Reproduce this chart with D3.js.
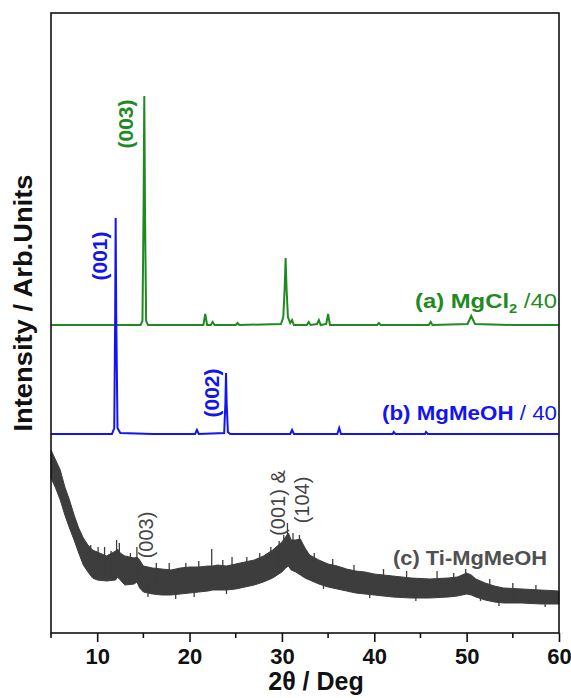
<!DOCTYPE html>
<html><head><meta charset="utf-8">
<script src="https://cdn.jsdelivr.net/npm/d3@7/dist/d3.min.js"></script>
<style>body{margin:0;background:#fff}svg{display:block;font-family:"Liberation Sans",Arial,sans-serif}</style>
</head><body><div id="chart"></div>
<script>
// ---- data ----
const xTicks = [10, 20, 30, 40, 50, 60];
const xMinorTicks = [5, 15, 25, 35, 45, 55];
// (a) MgCl2 /40 (offset trace)
const mgcl2Angle = [5, 8, 11, 14.7, 14.9, 15.02, 15.1, 15.18, 15.3, 15.5, 18, 21.5, 21.7, 21.9, 22.3, 22.5, 22.7, 25.0, 25.2, 25.4, 29.9, 30.15, 30.3, 30.4, 30.5, 30.65, 30.9, 31.1, 31.3, 32.7, 32.9, 33.1, 33.8, 34.0, 34.2, 34.8, 35.0, 35.2, 38, 40.3, 40.5, 40.7, 44, 45.9, 46.1, 46.3, 50.1, 50.5, 50.9, 55, 60];
const mgcl2Int   = [308, 308, 308, 308, 312, 420, 537, 420, 312, 308, 308, 308, 319, 308, 308, 311, 308, 308, 310, 308, 309, 316, 345, 375, 345, 316, 310, 313, 308, 308, 311, 308, 309, 313, 308, 309, 319, 308, 308, 308, 310, 308, 308, 308, 311, 308, 309, 317, 309, 308, 308];
// (b) MgMeOH / 40
const mgmeohAngle = [5, 8, 11.6, 11.85, 11.95, 12.0, 12.06, 12.2, 12.5, 16, 20.6, 20.8, 21.0, 23.75, 23.88, 23.95, 24.02, 24.15, 24.4, 28, 30.9, 31.1, 31.3, 36.0, 36.2, 36.4, 42.0, 42.1, 42.3, 45.5, 45.6, 45.8, 52, 60];
const mgmeohInt   = [199, 199, 199, 205, 320, 415, 320, 205, 200, 199, 199, 203, 199, 200, 230, 260, 230, 201, 199, 199, 199, 203, 199, 199, 205, 199, 199, 201, 199, 199, 201, 199, 199, 199];
// (c) Ti-MgMeOH : noisy trace read as upper / lower envelope plus visible spikes
const tiAngle = [5.0, 5.5, 6.0, 6.5, 7.0, 7.5, 8.0, 8.5, 9.0, 9.5, 10, 11, 12, 12.2, 12.5, 13, 14, 14.3, 14.6, 15, 16, 17, 18, 19, 20, 21, 22, 22.5, 23, 24, 25, 26, 27, 28, 29, 29.5, 30, 30.4, 30.7, 31, 31.5, 32, 32.5, 33, 34, 35, 36, 37, 38, 39, 40, 42, 44, 46, 48, 49, 50, 50.5, 51, 52, 53, 54, 56, 58, 60];
const tiUpper = [183, 173, 163, 146, 133, 118, 105, 95, 88, 83, 81, 77, 82, 84, 80, 77, 75, 76, 73, 67, 65, 64, 63, 65, 66, 66, 67, 67, 68, 67, 69, 71, 73, 77, 83, 87, 91, 96, 100, 93, 93, 94, 85, 78, 73, 69, 67, 64, 62, 61, 59, 57, 55, 54, 55, 56, 60, 58, 54, 50, 47, 45, 44, 43, 42];
const tiLower = [155, 145, 133, 118, 105, 93, 80, 68, 61, 55, 53, 52, 53, 56, 53, 48, 49, 51, 45, 41, 39, 38, 38, 39, 40, 41, 42, 43, 43, 43, 44, 46, 48, 51, 55, 58, 61, 65, 67, 63, 61, 58, 55, 53, 49, 46, 44, 42, 40, 39, 38, 36, 35, 35, 36, 37, 39, 38, 36, 33, 31, 30, 30, 29, 29];
const tiSpikeAngle = [9.3, 10.1, 10.8, 11.5, 12.1, 12.4, 13.6, 14.3, 15.5, 16.4, 17.8, 18.5, 19.6, 20.5, 21.0, 22.4, 23.6, 24.0, 24.6, 26.2, 27.6, 28.8, 29.7, 30.2, 30.6, 31.2, 31.9, 33.5, 34.5, 35.5, 37.8, 39.5, 41.0, 43.5, 44.5, 46.8, 48.6, 49.9, 51.5, 52.5, 53.5, 55.0, 57.5, 58.5];
const tiSpikeTop   = [88, 86, 86, 82, 93, 90, 80, 86, 55, 70, 70, 55, 70, 55, 72, 84, 73, 58, 76, 76, 80, 86, 92, 98, 110, 100, 98, 80, 62, 74, 68, 52, 64, 62, 48, 62, 60, 64, 46, 54, 40, 50, 48, 38];
const tiSpikeBase  = [60, 58, 55, 55, 58, 58, 52, 52, 36, 45, 45, 34, 45, 36, 45, 45, 46, 39, 46, 48, 52, 56, 62, 64, 68, 65, 62, 52, 44, 46, 42, 35, 38, 38, 32, 38, 38, 40, 32, 34, 27, 32, 31, 26];

const seriesLabels = ["(a) MgCl", "(b) MgMeOH", "(c) Ti-MgMeOH"];
const peakLabelsGreen = [{t: "(003)", a: 15.1, v: 537}];
const peakLabelsBlue = [{t: "(001)", a: 12.0, v: 415}, {t: "(002)", a: 23.95, v: 260}];

// ---- layout ----
const W = 571, H = 698;
const m = {l: 51, r: 12, t: 13, b: 65};
const svg = d3.select("#chart").append("svg").attr("width", W).attr("height", H);
const x = d3.scaleLinear().domain([5, 60]).range([m.l, W - m.r]);
const y = d3.scaleLinear().domain([0, 620]).range([H - m.b, m.t]);

const green = "#1f8a1f", blue = "#1414f0", gray = "#3d3d3d";

// traces
const line = d3.line().x(d => x(d[0])).y(d => y(d[1]));
svg.append("path").datum(mgcl2Angle.map((a, i) => [a, mgcl2Int[i]]))
  .attr("d", line).attr("fill", "none").attr("stroke", green).attr("stroke-width", 2);
svg.append("path").datum(mgmeohAngle.map((a, i) => [a, mgmeohInt[i]]))
  .attr("d", line).attr("fill", "none").attr("stroke", blue).attr("stroke-width", 2);

const area = d3.area().x(d => x(d[0])).y0(d => y(d[2])).y1(d => y(d[1]));
svg.append("path").datum(tiAngle.map((a, i) => [a, tiUpper[i], tiLower[i]]))
  .attr("d", area).attr("fill", gray).attr("stroke", gray).attr("stroke-width", 1);
svg.append("g").selectAll("line").data(tiSpikeAngle).join("line")
  .attr("x1", d => x(d)).attr("x2", d => x(d))
  .attr("y1", (d, i) => y(tiSpikeBase[i])).attr("y2", (d, i) => y(tiSpikeTop[i]))
  .attr("stroke", gray).attr("stroke-width", 1.3);

// frame
svg.append("rect").attr("x", m.l).attr("y", m.t).attr("width", W - m.r - m.l).attr("height", H - m.b - m.t)
  .attr("fill", "none").attr("stroke", "#111").attr("stroke-width", 1.6);

// x axis
const ax = svg.append("g").attr("transform", `translate(0,${H - m.b})`);
ax.call(d3.axisBottom(x).tickValues(xTicks).tickSize(9).tickPadding(6).tickFormat(d3.format("d")));
ax.select(".domain").remove();
ax.selectAll(".tick line").attr("stroke", "#111").attr("stroke-width", 1.6);
ax.selectAll(".tick text").attr("font-size", 22).attr("font-weight", "bold").attr("fill", "#111")
  .attr("font-family", "Liberation Sans, Arial, sans-serif");
ax.selectAll(".minor").data(xMinorTicks).join("line").attr("class", "minor")
  .attr("x1", d => x(d)).attr("x2", d => x(d)).attr("y1", 0).attr("y2", 5)
  .attr("stroke", "#111").attr("stroke-width", 1.6);

svg.append("text").attr("x", 316).attr("y", 690).attr("text-anchor", "middle")
  .attr("font-size", 25).attr("font-weight", "bold").attr("fill", "#111").text("2θ / Deg");
svg.append("text").attr("transform", `translate(32,303) rotate(-90)`)
  .attr("text-anchor", "middle").attr("font-size", 26).attr("font-weight", "bold").attr("fill", "#111")
  .attr("textLength", 257).attr("lengthAdjust", "spacingAndGlyphs")
  .text("Intensity / Arb.Units");

// series labels
const la = svg.append("text").attr("x", 557).attr("y", y(325)).attr("text-anchor", "end")
  .attr("font-size", 21).attr("fill", green).attr("textLength", 142).attr("lengthAdjust", "spacingAndGlyphs");
la.append("tspan").attr("font-weight", "bold").text(seriesLabels[0]);
la.append("tspan").attr("font-weight", "bold").attr("font-size", 13).attr("dy", 5).text("2");
la.append("tspan").attr("dy", -5).text(" /40");

const lb = svg.append("text").attr("x", 557).attr("y", y(213)).attr("text-anchor", "end")
  .attr("font-size", 21).attr("fill", blue).attr("textLength", 175).attr("lengthAdjust", "spacingAndGlyphs");
lb.append("tspan").attr("font-weight", "bold").text(seriesLabels[1]);
lb.append("tspan").text(" / 40");

svg.append("text").attr("x", 547).attr("y", y(68)).attr("text-anchor", "end")
  .attr("font-size", 20).attr("font-weight", "bold").attr("fill", "#505050")
  .attr("textLength", 154).attr("lengthAdjust", "spacingAndGlyphs").text(seriesLabels[2]);

// peak labels (rotated)
function vlab(txt, cx, cy, col, bold, fs) {
  svg.append("text").attr("transform", `translate(${cx},${cy}) rotate(-90)`)
    .attr("text-anchor", "middle").attr("dominant-baseline", "central")
    .attr("font-size", fs).attr("font-weight", bold ? "bold" : "normal").attr("fill", col).text(txt);
}
peakLabelsGreen.forEach(p => vlab(p.t, x(p.a) - 19, y(p.v) + 28, green, true, 21));
vlab(peakLabelsBlue[0].t, x(peakLabelsBlue[0].a) - 16, y(peakLabelsBlue[0].v) + 38, blue, true, 21);
vlab(peakLabelsBlue[1].t, x(peakLabelsBlue[1].a) - 15, y(peakLabelsBlue[1].v) + 20, blue, true, 21);
vlab("(003)", x(15.3), y(98), "#444", false, 20);
vlab("(001) &", x(29.6), y(130), "#444", false, 20);
vlab("(104)", x(32.2), y(133), "#444", false, 20);
</script></body></html>
